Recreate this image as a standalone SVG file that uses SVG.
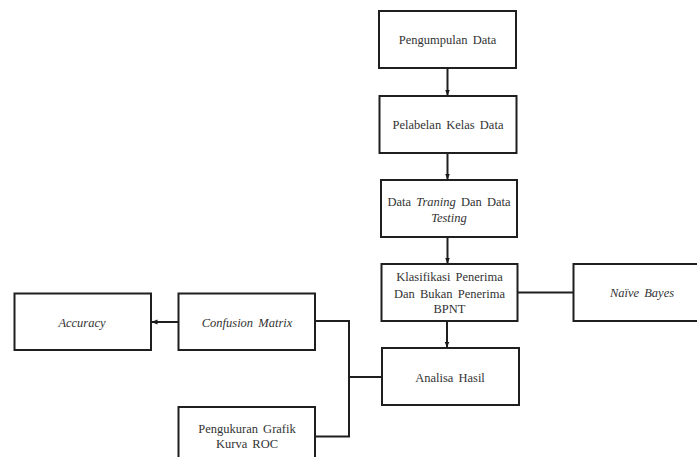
<svg xmlns="http://www.w3.org/2000/svg" width="697" height="457" viewBox="0 0 697 457">
<defs>
<marker id="ah" viewBox="0 0 6 6" refX="5.5" refY="3" markerWidth="6" markerHeight="6" markerUnits="userSpaceOnUse" orient="auto">
<path d="M0,0.5 L6,3 L0,5.5 Z" fill="#1a1a1a"/>
</marker>
<style>
.box{fill:#fff;stroke:#1f1f1f;stroke-width:2}
text{font-family:'Liberation Serif','Times New Roman',Times,serif;font-size:12.5px;fill:#333;text-anchor:middle;word-spacing:2px}
.i{font-style:italic}
.c{fill:none;stroke:#1f1f1f;stroke-width:2}
</style>
</defs>
<rect width="697" height="457" fill="#fff"/>
<g id="pengumpulan"><rect class="box" x="379" y="11" width="137" height="57"/><text x="447.5" y="44">Pengumpulan Data</text></g>
<g id="pelabelan"><rect class="box" x="379.5" y="96" width="137" height="57"/><text x="448" y="129">Pelabelan Kelas Data</text></g>
<g id="data"><rect class="box" x="381" y="180" width="136" height="57"/><text x="449" y="206">Data <tspan class="i">Traning</tspan> Dan Data</text><text class="i" x="449" y="221.5">Testing</text></g>
<g id="klasifikasi"><rect class="box" x="381.5" y="264" width="136" height="57"/><text x="449.5" y="281">Klasifikasi Penerima</text><text x="449.5" y="297.5">Dan Bukan Penerima</text><text x="449.5" y="313">BPNT</text></g>
<g id="naive"><rect class="box" x="573.5" y="264" width="130" height="57"/><text class="i" x="642" y="297">Naïve Bayes</text></g>
<g id="analisa"><rect class="box" x="382" y="348" width="137" height="57"/><text x="450" y="382">Analisa Hasil</text></g>
<g id="confusion"><rect class="box" x="178.5" y="293.5" width="136.5" height="56.5"/><text class="i" x="247" y="326.5">Confusion Matrix</text></g>
<g id="accuracy"><rect class="box" x="14.5" y="293.5" width="136.5" height="56.5"/><text class="i" x="82" y="327">Accuracy</text></g>
<g id="roc"><rect class="box" x="178.5" y="407" width="136.5" height="60"/><text x="247" y="432.5">Pengukuran Grafik</text><text x="247" y="447.5">Kurva ROC</text></g>
<g id="connectors">
<line class="c" x1="447.5" y1="68" x2="447.5" y2="95" marker-end="url(#ah)"/>
<line class="c" x1="447.5" y1="153" x2="447.5" y2="179" marker-end="url(#ah)"/>
<line class="c" x1="447.5" y1="237" x2="447.5" y2="263" marker-end="url(#ah)"/>
<line class="c" x1="447" y1="321" x2="447" y2="347" marker-end="url(#ah)"/>
<line class="c" x1="517.5" y1="292.5" x2="573.5" y2="292.5"/>
<line class="c" x1="178.5" y1="322" x2="152" y2="322" marker-end="url(#ah)"/>
<polyline class="c" points="315,321 349,321 349,436.5 315,436.5"/>
<line class="c" x1="349" y1="377" x2="382" y2="377"/>
</g>
</svg>
